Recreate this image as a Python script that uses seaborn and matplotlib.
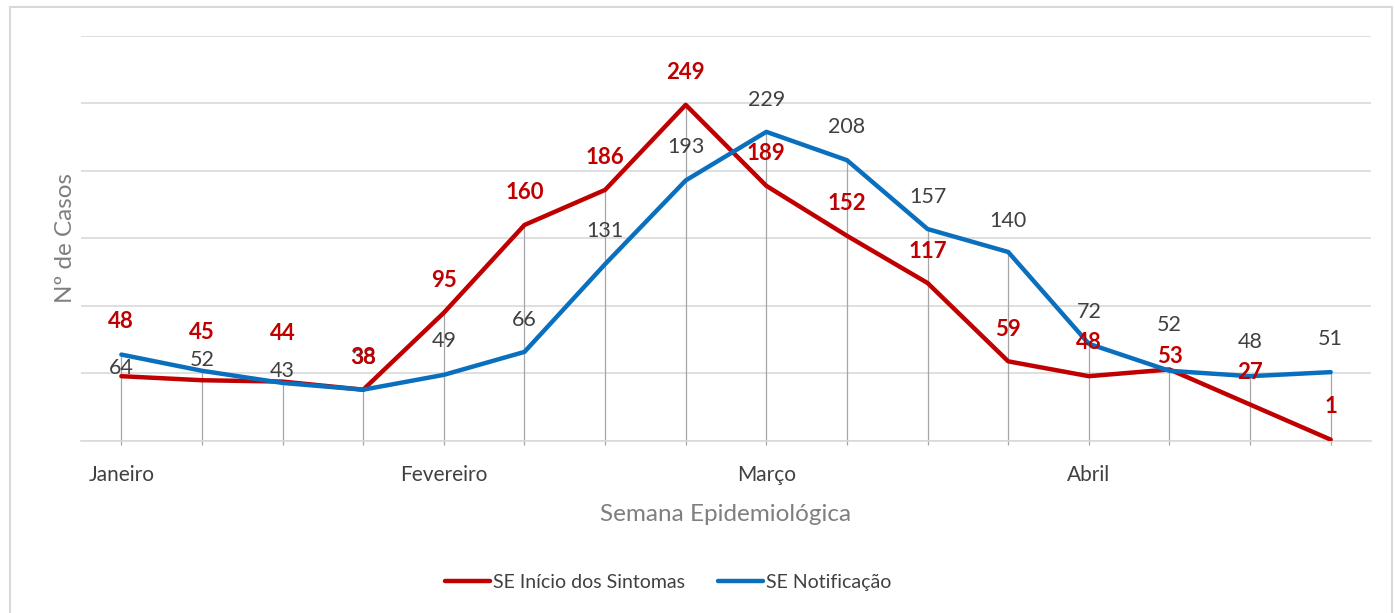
import pandas as pd
import numpy as np
import matplotlib.pyplot as plt
import seaborn as sns
from matplotlib.patches import Rectangle

sns.set_theme(style="white")
plt.rcParams['font.family'] = ['Lato', 'DejaVu Sans']

# dados por semana epidemiológica (16 semanas)
semanas = list(range(1, 17))
inicio_sintomas = [48, 45, 44, 38, 95, 160, 186, 249, 189, 152, 117, 59, 48, 53, 27, 1]
notificacao = [64, 52, 43, 38, 49, 66, 131, 193, 229, 208, 157, 140, 72, 52, 48, 51]
meses = ['Janeiro', 'Fevereiro', 'Março', 'Abril']
semana_mes = [1, 5, 9, 13]

serie_ini = 'SE Início dos Sintomas'
serie_not = 'SE Notificação'
cores = {serie_ini: '#C00000', serie_not: '#0A70BE'}

# deslocamento vertical (pixels) dos rótulos de dados
off_ini = [55, 48, 48, 32, 32, 32, 32, 32, 32, 32, 32, 32, 34, 13, 32, 33]
off_not = [-13, 11, 12, 32, 34, 32, 33, 33, 32, 33, 32, 31, 32, 46, 34, 33]

df = pd.DataFrame({
    'Semana': semanas * 2,
    'Casos': inicio_sintomas + notificacao,
    'Serie': [serie_ini] * len(semanas) + [serie_not] * len(semanas),
})

fig = plt.figure(figsize=(13.95, 6.13), dpi=100)
ax = fig.add_axes([0.0581, 0.2806, 0.9247, 0.6607])

# linhas de chamada (drop lines)
topo = np.maximum(inicio_sintomas, notificacao)
ax.vlines(semanas, -3, topo, color='#A6A6A6', lw=0.9, zorder=1, clip_on=False)

sns.lineplot(data=df, x='Semana', y='Casos', hue='Serie', palette=cores,
             linewidth=3.2, ax=ax, legend=False, zorder=3)

ax.set_xlim(0.5, 16.5)
ax.set_ylim(0, 300)
ax.set_yticks(range(0, 301, 50))
ax.yaxis.grid(True, color='#D9D9D9', lw=1.2)
ax.set_yticklabels([])
ax.tick_params(axis='y', length=0)
for s in ['top', 'right', 'left']:
    ax.spines[s].set_visible(False)
ax.spines['bottom'].set_color('#D9D9D9')
ax.spines['bottom'].set_linewidth(1.2)

ax.set_xticks(semana_mes)
ax.set_xticklabels(meses, fontsize=15, color='#404040')
ax.tick_params(axis='x', length=0, pad=17)

ax.set_xlabel('Semana Epidemiológica', fontsize=17.5, color='#7F7F7F', labelpad=14)
ax.set_ylabel('Nº de Casos', fontsize=17.5, color='#7F7F7F', labelpad=0)

for x, v, o in zip(semanas, notificacao, off_not):
    ax.annotate(str(v), (x, v), xytext=(0, o), textcoords='offset pixels',
                ha='center', va='center', fontsize=15.5, color='#404040', zorder=5)
for x, v, o in zip(semanas, inicio_sintomas, off_ini):
    ax.annotate(str(v), (x, v), xytext=(0, o), textcoords='offset pixels',
                ha='center', va='center', fontsize=16, fontweight='bold',
                color='#C00000', zorder=6)

handles = [plt.Line2D([], [], color=cores[serie_ini], lw=3.2),
           plt.Line2D([], [], color=cores[serie_not], lw=3.2)]
fig.legend(handles, [serie_ini, serie_not], loc='center', bbox_to_anchor=(0.479, 0.05),
           ncol=2, frameon=False, fontsize=14, handlelength=2.3, handletextpad=0.15,
           columnspacing=1.7, labelcolor='#404040')

fig.add_artist(Rectangle((0.0072, -0.02), 0.9906, 1.0086, transform=fig.transFigure,
                         fill=False, edgecolor='#D9D9D9', lw=1.5))

fig.savefig('out.png', dpi=100)
